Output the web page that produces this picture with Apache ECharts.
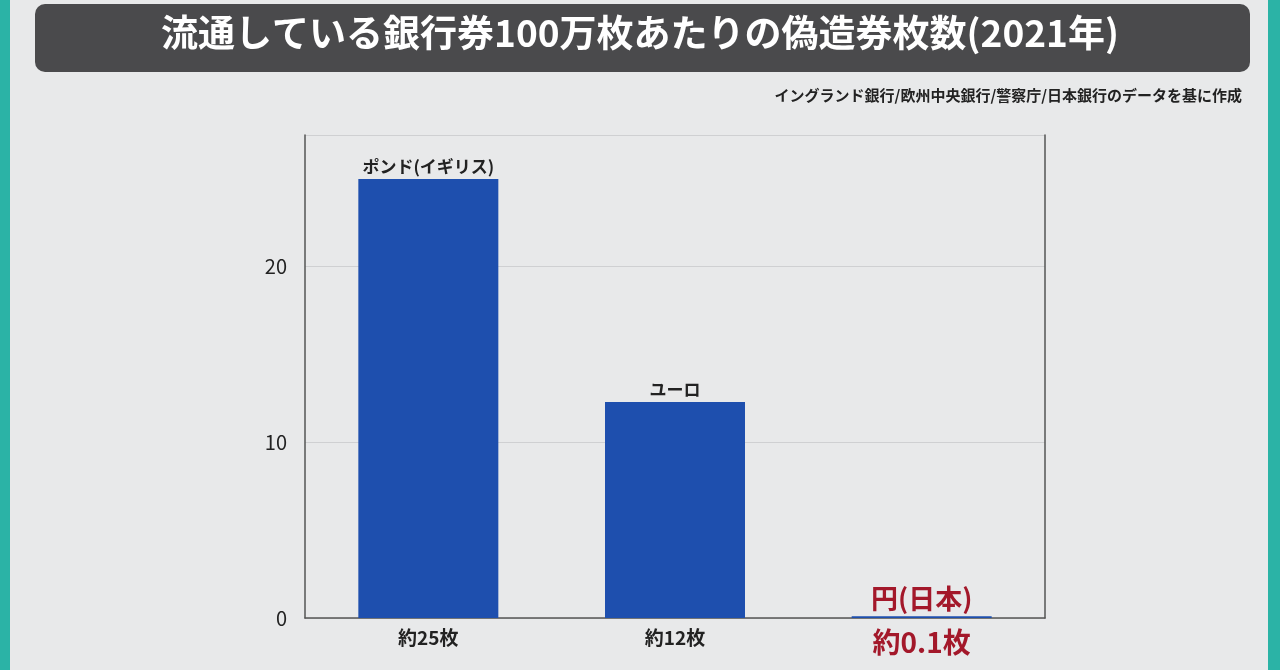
<!DOCTYPE html>
<html><head><meta charset="utf-8">
<script src="https://cdn.jsdelivr.net/npm/echarts@6/dist/echarts.min.js"></script>
<style>html,body{margin:0;padding:0;background:#e8e9ea;}#c{width:1280px;height:670px;}</style>
</head><body><div id="c"></div>
<script>
const categories = ['約25枚', '約12枚', '約0.1枚'];
const barNames = ['ポンド(イギリス)', 'ユーロ', '円(日本)'];
const values = [25, 12.3, 0.1];
const yTicks = [0, 10, 20];
const titleText = '流通している銀行券100万枚あたりの偽造券枚数(2021年)';
const sourceText = 'イングランド銀行/欧州中央銀行/警察庁/日本銀行のデータを基に作成';

const red = '#a3182a';
const font = '"Noto Sans CJK JP", sans-serif';
const chart = echarts.init(document.getElementById('c'));
chart.setOption({
  backgroundColor: '#e8e9ea',
  animation: false,
  graphic: [
    {type:'rect', left:0, top:0, shape:{width:10,height:670}, style:{fill:'#2bb3a6'}},
    {type:'rect', right:0, top:0, shape:{width:12,height:670}, style:{fill:'#2bb3a6'}},
    {type:'rect', left:35, top:4, shape:{width:1215,height:68,r:10}, style:{fill:'#4a4a4c'}},
    {type:'text', left:'center', top:14, style:{text:titleText, fill:'#fff', font:'bold 37px '+font}},
    {type:'text', right:38, top:88, style:{text:sourceText, fill:'#222', font:'bold 15px '+font}}
  ],
  grid: {left:305, right:235, top:135, bottom:52},
  xAxis: {
    type:'category', data:categories,
    axisLine:{lineStyle:{color:'#555', width:1.5}}, axisTick:{show:false},
    axisLabel:{margin:10, fontFamily:font, fontWeight:'bold', fontSize:19, color:'#222',
      rich:{r:{color:red, fontSize:28, fontWeight:'bold', fontFamily:font}},
      formatter:(v,i)=> i===2 ? '{r|'+v+'}' : v}
  },
  yAxis: [{
    type:'value', min:0, max:27.5, interval:10,
    axisLine:{show:true, lineStyle:{color:'#555', width:1.5}}, axisTick:{show:false},
    splitLine:{lineStyle:{color:'#cfd0d2'}},
    axisLabel:{margin:18, fontSize:20, color:'#222', fontFamily:font,
      formatter:v=> yTicks.includes(v) ? String(v) : ''}
  },{
    type:'value', min:0, max:27.5, interval:10, position:'right',
    axisLine:{show:true, lineStyle:{color:'#555', width:1.5}}, axisTick:{show:false},
    axisLabel:{show:false}, splitLine:{show:false}
  }],
  series: [{
    type:'bar', barWidth:140,
    data: values.map((v,i)=>({value:v, itemStyle:{color:'#1e4fae'},
      label:{show:true, position:'top', distance:4, formatter:barNames[i],
        fontFamily:font, fontWeight:'bold',
        color: i===2 ? red : '#222', fontSize: i===2 ? 27 : 17}}))
  }]
});
</script></body></html>
